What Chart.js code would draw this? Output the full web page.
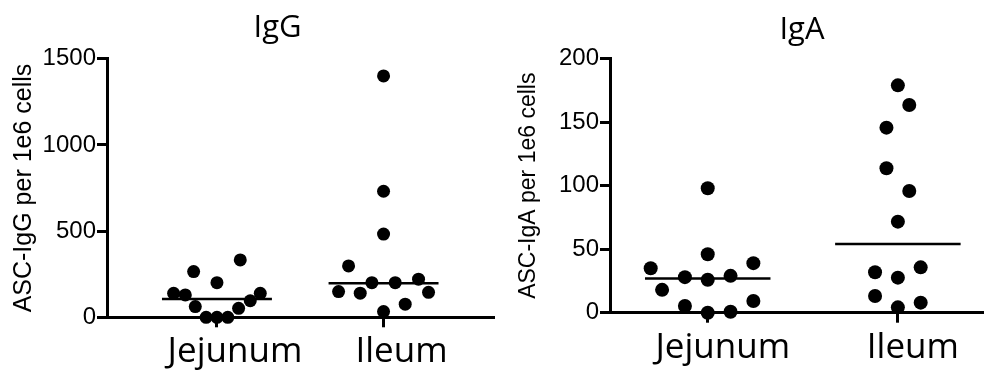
<!DOCTYPE html>
<html>
<head>
<meta charset="utf-8">
<script src="https://cdn.jsdelivr.net/npm/chart.js@4"></script>
<style>
    html, body { margin: 0; padding: 0; background: #fff; overflow: hidden; width: 984px; height: 372px; }
    canvas { position: absolute; top: 0; }
    #igGChart { left: 0; }
    #igAChart { left: 492px; }
</style>
</head>
<body>
<canvas id="igGChart" width="500" height="372"></canvas>
<canvas id="igAChart" width="620" height="372"></canvas>
<script>
// Data: one dot per sample, horizontal scatter offset in category units
const categories = ['Jejunum', 'Ileum'];

const igGJejunum = [333, 265, 201, 139, 130, 139, 96, 62, 52, 0, 0, 0];
const igGJejunumJitter = [0.14, -0.14, 0, -0.26, -0.19, 0.26, 0.20, -0.13, 0.13, -0.065, 0, 0.065];
const igGIleum = [1400, 731, 483, 298, 201, 201, 221, 149, 140, 145, 76, 33];
const igGIleumJitter = [0, 0, 0, -0.21, -0.07, 0.07, 0.21, -0.27, -0.14, 0.27, 0.13, 0];
const igGMedians = [106, 198];
const igGTicks = [0, 500, 1000, 1500];

const igAJejunum = [98, 46, 35, 39, 28, 26, 29, 18, 5.3, 9.2, 0, 0.8];
const igAJejunumJitter = [0, 0, -0.30, 0.24, -0.12, 0, 0.12, -0.24, -0.12, 0.24, 0, 0.12];
const igAIleum = [179, 163.5, 145.7, 113.7, 95.8, 71.7, 31.8, 27.6, 35.7, 13.1, 4.2, 7.9];
const igAIleumJitter = [0, 0.06, -0.06, -0.06, 0.06, 0, -0.12, 0, 0.12, -0.12, 0, 0.12];
const igAMedians = [27, 54];
const igATicks = [0, 50, 100, 150, 200];

const MEDIAN_HALF = 0.33;
const SANS = "'Liberation Sans', Arial, sans-serif";
const LABEL_FONT = "'Open Sans', sans-serif";

// Panel title drawn at a fixed spot (the original is not centred on the plot)
const panelTitle = {
    id: 'panelTitle',
    afterDraw(chart, args, opts) {
        const ctx = chart.ctx;
        ctx.save();
        ctx.font = `${opts.size}px ${LABEL_FONT}`;
        ctx.fillStyle = '#000';
        ctx.textAlign = 'center';
        ctx.textBaseline = 'alphabetic';
        ctx.fillText(opts.text, opts.x, opts.y);
        ctx.restore();
    }
};

function buildDatasets(groups, jitters, medians, radius, medianWidth) {
    const sets = [];
    groups.forEach((values, i) => {
        sets.push({
            type: 'scatter',
            data: values.map((v, j) => ({ x: i + 1 + jitters[i][j], y: v })),
            pointRadius: radius,
            pointBackgroundColor: '#000',
            pointBorderWidth: 0,
            clip: false
        });
    });
    medians.forEach((m, i) => {
        sets.push({
            type: 'line',
            data: [{ x: i + 1 - MEDIAN_HALF, y: m }, { x: i + 1 + MEDIAN_HALF, y: m }],
            borderColor: '#000',
            borderWidth: medianWidth,
            pointRadius: 0,
            clip: false
        });
    });
    return sets;
}

function makeChart(id, cfg) {
    const axisLine = { drawOnChartArea: false, drawTicks: true, tickLength: 10, lineWidth: 3, color: '#000' };
    return new Chart(document.getElementById(id), {
        type: 'scatter',
        data: { datasets: cfg.datasets },
        plugins: [panelTitle],
        options: {
            responsive: false,
            animation: false,
            layout: { padding: { right: cfg.padRight, top: cfg.padTop } },
            plugins: {
                legend: { display: false },
                tooltip: { enabled: false },
                panelTitle: cfg.title
            },
            scales: {
                x: {
                    type: 'linear',
                    min: cfg.xMin,
                    max: cfg.xMax,
                    afterBuildTicks: axis => { axis.ticks = categories.map((c, i) => ({ value: i + 1 })); },
                    afterFit: s => { s.height = cfg.xHeight; },
                    ticks: {
                        callback: v => categories[Math.round(v) - 1],
                        color: '#000',
                        font: { family: LABEL_FONT, size: 35 },
                        padding: 4,
                        labelOffset: cfg.labelOffset
                    },
                    grid: axisLine,
                    border: { color: '#000', width: 3 }
                },
                y: {
                    min: 0,
                    max: cfg.yTicks[cfg.yTicks.length - 1],
                    afterBuildTicks: axis => { axis.ticks = cfg.yTicks.map(v => ({ value: v })); },
                    afterFit: s => { s.width = cfg.yWidth; },
                    ticks: {
                        callback: v => String(v),
                        color: '#000',
                        font: { family: SANS, size: 24 },
                        padding: 1
                    },
                    grid: axisLine,
                    border: { color: '#000', width: 3 },
                    title: {
                        display: true,
                        text: cfg.yLabel,
                        color: '#000',
                        font: { family: SANS, size: cfg.yLabelSize },
                        padding: { top: cfg.yLabelPad, bottom: 0 }
                    }
                }
            }
        }
    });
}

makeChart('igGChart', {
    title: { text: 'IgG', size: 31, x: 277.5, y: 37 },
    yLabel: 'ASC-IgG per 1e6 cells',
    yLabelSize: 25,
    yLabelPad: 9,
    datasets: buildDatasets([igGJejunum, igGIleum], [igGJejunumJitter, igGIleumJitter], igGMedians, 6.5, 2.5),
    yTicks: igGTicks,
    xMin: 0.34,
    xMax: 2.66,
    yWidth: 107,
    xHeight: 54.7,
    padTop: 58.7,
    padRight: 6,
    labelOffset: 18
});

makeChart('igAChart', {
    title: { text: 'IgA', size: 31, x: 310, y: 39 },
    yLabel: 'ASC-IgA per 1e6 cells',
    yLabelSize: 23,
    yLabelPad: 22.7,
    datasets: buildDatasets([igAJejunum, igAIleum], [igAJejunumJitter, igAIleumJitter], igAMedians, 7, 2.5),
    yTicks: igATicks,
    xMin: 0.486,
    xMax: 2.514,
    yWidth: 118,
    xHeight: 59.3,
    padTop: 58.7,
    padRight: 116.4,
    labelOffset: 15
});
</script>
</body>
</html>
